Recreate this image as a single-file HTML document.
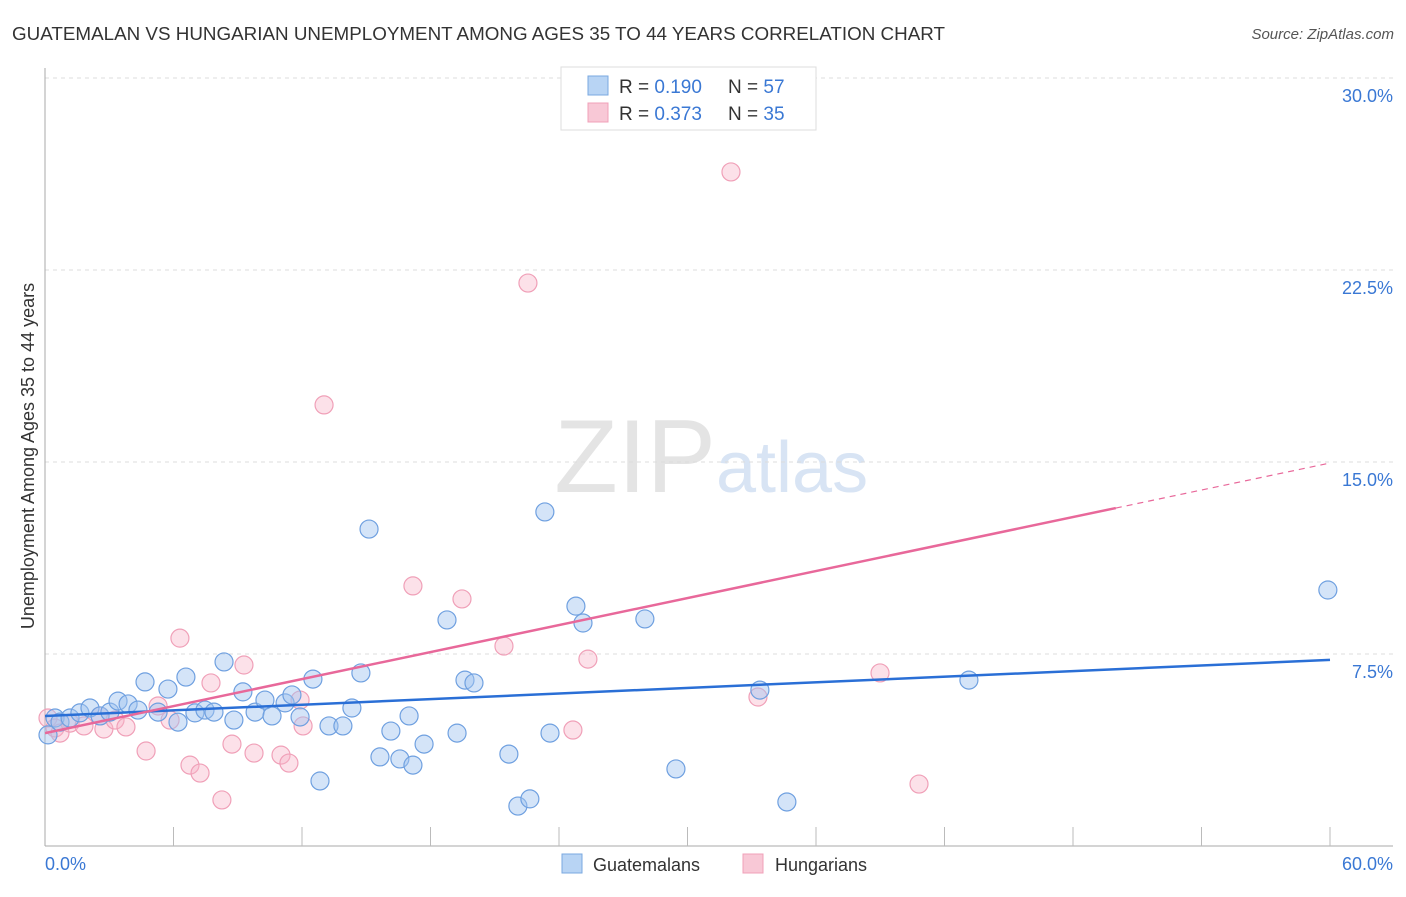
<!DOCTYPE html>
<html><head><meta charset="utf-8"><style>
body{margin:0;background:#fff;font-family:"Liberation Sans",sans-serif;}
svg text{font-family:"Liberation Sans",sans-serif;}
</style></head><body>
<svg id="chart" width="1406" height="892" xmlns="http://www.w3.org/2000/svg">
<text x="12" y="40" font-size="18" fill="#333" textLength="933" lengthAdjust="spacingAndGlyphs">GUATEMALAN VS HUNGARIAN UNEMPLOYMENT AMONG AGES 35 TO 44 YEARS CORRELATION CHART</text>
<text x="1394" y="39" font-size="15" fill="#555" text-anchor="end" font-style="italic">Source: ZipAtlas.com</text>
<text x="716" y="492" font-size="104" fill="#e4e4e4" text-anchor="end" font-family="Liberation Serif">ZIP</text>
<text x="716" y="492" font-size="72" fill="#d8e4f4">atlas</text>
<g id="grid"></g>
<g id="axes"></g>
<g id="pink"></g>
<g id="blue"></g>
<g id="lines"></g>
<text transform="translate(34,456) rotate(-90)" font-size="18" fill="#333" text-anchor="middle">Unemployment Among Ages 35 to 44 years</text>
<text x="45" y="870" font-size="18" fill="#3a78d4">0.0%</text>
<text x="1393" y="870" font-size="18" fill="#3a78d4" text-anchor="end">60.0%</text>
<g>
<rect x="561" y="67" width="255" height="63" fill="#fff" stroke="#ddd"/>
<rect x="588" y="76" width="20" height="19" fill="#b8d4f4" stroke="#7aa8e0"/>
<rect x="588" y="103" width="20" height="19" fill="#f8c8d6" stroke="#f0a0b8"/>
<text x="619" y="93" font-size="19" fill="#333">R = <tspan fill="#3a78d4">0.190</tspan></text>
<text x="728" y="93" font-size="19" fill="#333">N = <tspan fill="#3a78d4">57</tspan></text>
<text x="619" y="120" font-size="19" fill="#333">R = <tspan fill="#3a78d4">0.373</tspan></text>
<text x="728" y="120" font-size="19" fill="#333">N = <tspan fill="#3a78d4">35</tspan></text>
</g>
<g>
<rect x="562" y="854" width="20" height="19" fill="#b8d4f4" stroke="#7aa8e0"/>
<text x="593" y="871" font-size="18" fill="#333">Guatemalans</text>
<rect x="743" y="854" width="20" height="19" fill="#f8c8d6" stroke="#f0a0b8"/>
<text x="775" y="871" font-size="18" fill="#333">Hungarians</text>
</g>
</svg>
<script>
const yTicks=[7.5,15,22.5,30];
const yTickLabels=["7.5%","15.0%","22.5%","30.0%"];
const xTicks=[6,12,18,24,30,36,42,48,54,60];
const blueX=[0.14,0.47,0.70,1.17,1.63,2.10,2.57,3.03,3.41,3.88,4.34,4.67,5.28,5.74,6.21,6.58,7.00,7.47,7.89,8.36,8.82,9.24,9.81,10.27,10.60,11.21,11.53,11.91,12.51,12.84,13.26,13.91,14.33,14.75,15.13,15.64,16.15,16.57,17.00,17.18,17.70,18.77,19.24,19.61,20.03,21.66,22.08,22.64,23.34,23.58,24.79,25.12,28.01,29.46,33.38,34.64,43.14,59.90];
const blueY=[4.34,5.00,4.84,5.00,5.20,5.39,5.08,5.23,5.66,5.55,5.31,6.41,5.23,6.13,4.84,6.60,5.20,5.31,5.23,7.19,4.92,6.02,5.23,5.70,5.08,5.59,5.90,5.04,6.52,2.54,4.69,4.69,5.39,6.76,12.38,3.48,4.49,3.40,5.08,3.16,3.98,8.83,4.41,6.48,6.37,3.59,1.56,1.84,13.05,4.41,9.37,8.71,8.87,3.01,6.09,1.72,6.48,10.00];
const pinkX=[0.14,0.47,0.70,1.17,1.82,2.57,2.75,3.27,3.78,4.72,5.28,5.84,6.30,6.77,7.24,7.75,8.26,8.73,9.29,9.76,11.02,11.39,11.91,12.05,13.03,17.18,19.47,21.43,22.55,24.65,25.35,32.03,33.29,38.99,40.81];
const pinkY=[5.00,4.61,4.41,4.80,4.69,5.08,4.57,4.92,4.65,3.71,5.47,4.92,8.12,3.16,2.85,6.37,1.80,3.98,7.07,3.63,3.55,3.24,5.70,4.69,17.23,10.16,9.65,7.81,21.99,4.53,7.30,26.33,5.82,6.76,2.42];
const blueTrend=[5.08,7.27];
const pinkTrend=[4.41,14.96];
const pinkSolidEnd=50;
const NS="http://www.w3.org/2000/svg";
const X=v=>45+v/60*1285, Y=v=>846-v/7.5*192;
function mk(tag,attrs,parent){const e=document.createElementNS(NS,tag);for(const k in attrs)e.setAttribute(k,attrs[k]);document.getElementById(parent).appendChild(e);return e;}
yTicks.forEach((t,i)=>{
 const l=mk('line',{x1:45,x2:1393,y1:Y(t),y2:Y(t),stroke:'#ddd','stroke-dasharray':'4,4'},'grid');
 
 
 const tx=mk('text',{x:1393,y:Y(t)+24,'font-size':18,fill:'#3a78d4','text-anchor':'end'},'grid');
 tx.textContent=yTickLabels[i];
 
 
});
const ax=mk('line',{x1:45,x2:45,y1:68,y2:846,stroke:'#aaa'},'axes');


const bx=mk('line',{x1:45,x2:1393,y1:846,y2:846,stroke:'#aaa'},'axes');


xTicks.forEach(t=>{
 const l=mk('line',{x1:X(t),x2:X(t),y1:827,y2:846,stroke:'#bbb'},'axes');
 
 
});
pinkX.forEach((v,i)=>{
 const c=mk('circle',{cx:X(v),cy:Y(pinkY[i]),r:9,fill:'rgba(248,180,200,0.4)',stroke:'#f0a0b8','stroke-width':1.2},'pink');
 
 
});
blueX.forEach((v,i)=>{
 const c=mk('circle',{cx:X(v),cy:Y(blueY[i]),r:9,fill:'rgba(160,196,240,0.45)',stroke:'#6fa0e0','stroke-width':1.2},'blue');
 
 
});
const bl=mk('line',{x1:X(0),y1:Y(blueTrend[0]),x2:X(60),y2:Y(blueTrend[1]),stroke:'#2a6fd6','stroke-width':2.5},'lines');


const pm=pinkTrend[0]+(pinkTrend[1]-pinkTrend[0])*pinkSolidEnd/60;
const pl=mk('line',{x1:X(0),y1:Y(pinkTrend[0]),x2:X(pinkSolidEnd),y2:Y(pm),stroke:'#e8689a','stroke-width':2.5},'lines');


const pd=mk('line',{x1:X(pinkSolidEnd),y1:Y(pm),x2:X(60),y2:Y(pinkTrend[1]),stroke:'#e8689a','stroke-width':1.2,'stroke-dasharray':'6,5'},'lines');


</script>
</body></html>
